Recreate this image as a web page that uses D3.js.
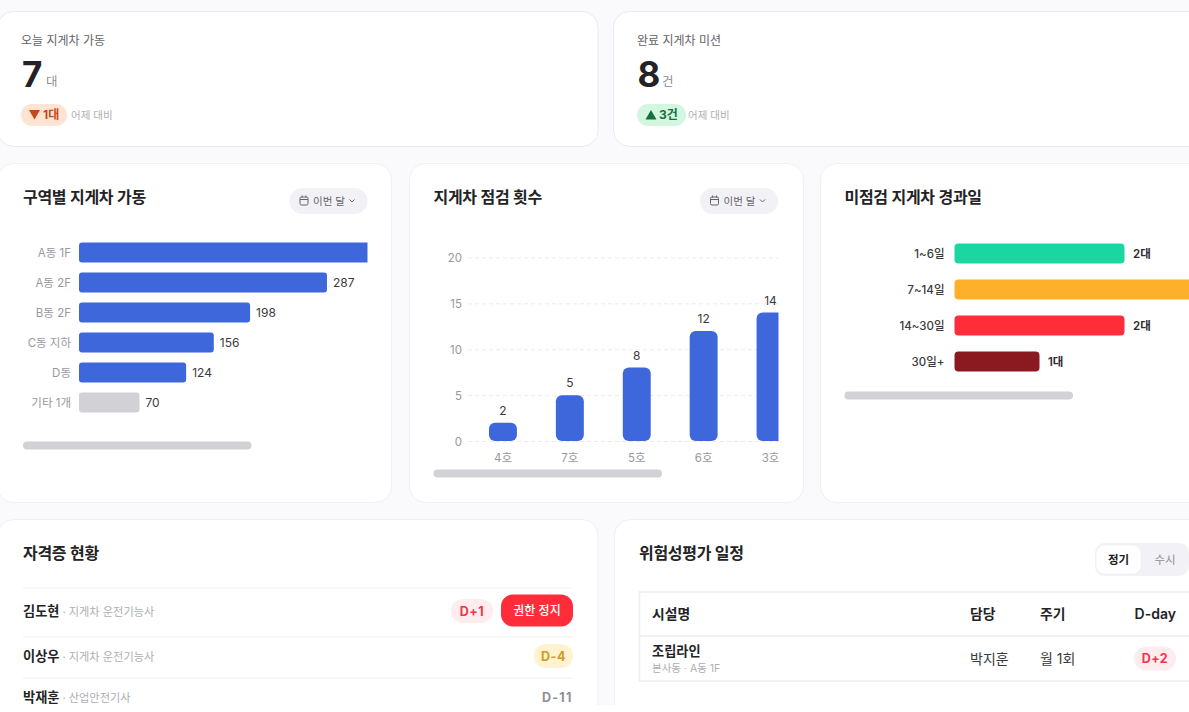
<!DOCTYPE html>
<html>
<head>
<meta charset="utf-8">
<script src="https://cdn.jsdelivr.net/npm/d3@7"></script>
<style>
    html, body { margin: 0; padding: 0; background: #fff; overflow: hidden; }
    svg { display: block; }
    text { font-family: Inter, "Noto Sans CJK KR", sans-serif; }
</style>
</head>
<body>
<div id="chart"></div>
<script>
// zone chart
const zoneNames = ["A동 1F", "A동 2F", "B동 2F", "C동 지하", "D동", "기타 1개"];
const zoneValues = [342, 287, 198, 156, 124, 70];
// inspection chart
const unitNames = ["4호", "7호", "5호", "6호", "3호"];
const unitValues = [2, 5, 8, 12, 14];
const unitTicks = [0, 5, 10, 15, 20];
// overdue chart
const overdueNames = ["1~6일", "7~14일", "14~30일", "30일+"];
const overdueValues = [2, 3, 2, 1];
const overdueColors = ["#1ad7a1", "#ffb02a", "#ff2d3a", "#8b1a20"];
// licence list
const licenceNames = ["김도현", "이상우", "박재훈"];
const licenceTypes = ["지게차 운전기능사", "지게차 운전기능사", "산업안전기사"];
const licenceDays = ["D+1", "D-4", "D-11"];

const width = 1189;
const height = 712;
const ink = "#1c1c1e";
const blue = "#3f67dc";

const svg = d3.select("#chart")
    .append("svg")
    .attr("width", width)
    .attr("height", height);

const defs = svg.append("defs");

// Page background stops short of the bottom edge
defs.append("clipPath")
    .attr("id", "page-clip")
    .append("rect")
    .attr("width", width)
    .attr("height", 705);

const page = svg.append("g").attr("clip-path", "url(#page-clip)");

page.append("rect")
    .attr("width", width)
    .attr("height", height)
    .attr("fill", "#fafafd");

// Helpers
const label = (x, y, str, size, fill, weight = 400, anchor = "start") =>
    page.append("text")
        .attr("x", x)
        .attr("y", y)
        .attr("font-size", size)
        .attr("font-weight", weight)
        .attr("fill", fill)
        .attr("text-anchor", anchor)
        .text(str);

const title = (x, y, str) =>
    label(x, y, str, 16, "#232326", 600).attr("letter-spacing", -0.3);

const card = (x, y, w, h, stroke = "#f0f0f4") =>
    page.append("rect")
        .attr("x", x + 0.5)
        .attr("y", y + 0.5)
        .attr("width", w)
        .attr("height", h)
        .attr("rx", 16)
        .attr("fill", "#fff")
        .attr("stroke", stroke);

const pill = (x, y, w, h, fill, r = h / 2) =>
    page.append("rect")
        .attr("x", x)
        .attr("y", y)
        .attr("width", w)
        .attr("height", h)
        .attr("rx", r)
        .attr("fill", fill);

const clipGroup = (id, x, y, w, h) => {
    defs.append("clipPath")
        .attr("id", id)
        .append("rect")
        .attr("x", x)
        .attr("y", y)
        .attr("width", w)
        .attr("height", h);
    return page.append("g").attr("clip-path", `url(#${id})`);
};

const monthButton = (x) => {
    pill(x, 188, 78, 26, "#f2f2f6");
    page.append("rect")
        .attr("x", x + 10.5)
        .attr("y", 197)
        .attr("width", 8)
        .attr("height", 8)
        .attr("rx", 1.5)
        .attr("fill", "none")
        .attr("stroke", "#636366");
    page.append("path")
        .attr("d", `M${x + 10.5} 199.5h8M${x + 12.5} 195.5v2M${x + 16.5} 195.5v2`)
        .attr("fill", "none")
        .attr("stroke", "#636366");
    label(x + 23.5, 204.5, "이번 달", 10.5, "#636366");
    page.append("path")
        .attr("d", `M${x + 60} 199.5l2.5 2.5l2.5 -2.5`)
        .attr("fill", "none")
        .attr("stroke", "#636366");
};

const scrollbar = (x, y) => pill(x, y, 228.5, 8, "#d1d1d6", 4);

// Top stat cards
card(-3, 11, 600.5, 135, "#e8e8f0");
label(21, 44.5, "오늘 지게차 가동", 12, "#636366");
label(22, 87, "7", 35, "#232326", 700);
label(46, 86, "대", 12.5, "#8e8e93");
pill(21, 104, 46, 22, "#ffe3d3");
page.append("path").attr("d", "M29 110h11l-5.5 9.5z").attr("fill", "#c2491a");
label(43, 119, "1대", 12, "#c2491a", 700);
label(71, 119, "어제 대비", 10.5, "#aeaeb2");

card(613, 11, 600, 135, "#e8e8f0");
label(637, 44.5, "완료 지게차 미션", 12, "#636366");
label(637.5, 87, "8", 35, "#232326", 700);
label(662, 86, "건", 12.5, "#8e8e93");
pill(637, 104, 49, 22, "#d3f6df");
page.append("path").attr("d", "M645.5 119.5h11l-5.5 -9.5z").attr("fill", "#14703f");
label(659, 119, "3건", 12, "#14703f", 700);
label(688, 119, "어제 대비", 10.5, "#aeaeb2");

// Zone chart
card(-3, 163, 394, 339);
title(23, 203, "구역별 지게차 가동");
monthButton(289.5);

const zoneY = d3.scaleBand()
    .domain(zoneNames)
    .range([237.5, 417.5])
    .paddingInner(1 / 3)
    .paddingOuter(1 / 6);
const zoneX = d3.scaleLinear()
    .domain([0, 342])
    .range([79, 374.5]);

const zoneG = clipGroup("zone-clip", 0, 230, 367.5, 190);
zoneG.selectAll("rect")
    .data(zoneNames)
    .enter()
    .append("rect")
    .attr("x", zoneX(0))
    .attr("y", (d) => zoneY(d))
    .attr("width", (d, i) => zoneX(zoneValues[i]) - zoneX(0))
    .attr("height", zoneY.bandwidth())
    .attr("rx", 3)
    .attr("fill", (d, i) => (i === zoneNames.length - 1 ? "#d1d1d6" : blue));

// The longest bar runs past the clip and its value is not shown
zoneG.selectAll(".value")
    .data(zoneNames.slice(1))
    .enter()
    .append("text")
    .attr("class", "value")
    .attr("x", (d, i) => zoneX(zoneValues[i + 1]) + 6)
    .attr("y", (d) => zoneY(d) + 14.5)
    .attr("font-size", 12)
    .attr("fill", "#3a3a3c")
    .text((d, i) => zoneValues[i + 1]);

const zoneAxis = page.append("g")
    .attr("transform", `translate(${zoneX(0)}, 0)`)
    .call(d3.axisLeft(zoneY).tickSize(0).tickPadding(8));
zoneAxis.select(".domain").remove();
zoneAxis.selectAll("text")
    .attr("dy", "0.42em")
    .attr("font-size", 11.5)
    .attr("fill", "#98989d");

scrollbar(23, 441.5);

// Inspection chart
card(409, 163, 394, 339);
title(433.5, 203, "지게차 점검 횟수");
monthButton(700);

const unitY = d3.scaleLinear()
    .domain([0, 20])
    .range([441, 257.5]);
const unitX = d3.scaleBand()
    .domain(unitNames)
    .range([469.5, 804])
    .paddingInner(39 / 67)
    .paddingOuter(39 / 134);

const gridAxis = page.append("g")
    .attr("transform", "translate(468, 0)")
    .call(d3.axisLeft(unitY).tickValues(unitTicks).tickSize(-310.5).tickPadding(6));
gridAxis.select(".domain").remove();
gridAxis.selectAll("line")
    .attr("stroke", "#ebebef")
    .attr("stroke-dasharray", "4 3");
gridAxis.selectAll("text")
    .attr("dy", "0.38em")
    .attr("font-size", 11.5)
    .attr("fill", "#98989d");

const unitG = clipGroup("unit-clip", 468, 230, 310.5, 240);
unitG.selectAll("rect")
    .data(unitNames)
    .enter()
    .append("rect")
    .attr("x", (d) => unitX(d))
    .attr("y", (d, i) => unitY(unitValues[i]))
    .attr("width", unitX.bandwidth())
    .attr("height", (d, i) => unitY(0) - unitY(unitValues[i]))
    .attr("rx", 6)
    .attr("fill", blue);

unitG.selectAll(".value")
    .data(unitNames)
    .enter()
    .append("text")
    .attr("class", "value")
    .attr("x", (d) => unitX(d) + unitX.bandwidth() / 2)
    .attr("y", (d, i) => unitY(unitValues[i]) - 8)
    .attr("text-anchor", "middle")
    .attr("font-size", 12)
    .attr("fill", "#3a3a3c")
    .text((d, i) => unitValues[i]);

const unitAxis = unitG.append("g")
    .attr("transform", "translate(0, 441)")
    .call(d3.axisBottom(unitX).tickSize(0).tickPadding(12.5));
unitAxis.select(".domain").remove();
unitAxis.selectAll("text")
    .attr("font-size", 11.5)
    .attr("fill", "#98989d");

scrollbar(433.5, 469.5);

// Overdue chart
card(820, 163, 400, 339);
title(844.5, 203, "미점검 지게차 경과일");

const overdueY = d3.scaleBand()
    .domain(overdueNames)
    .range([235.5, 379.5])
    .paddingInner(16 / 36)
    .paddingOuter(8 / 36);
const overdueX = d3.scaleLinear()
    .domain([0, 2])
    .range([954.5, 1124.5]);

page.append("g")
    .selectAll("rect")
    .data(overdueNames)
    .enter()
    .append("rect")
    .attr("x", overdueX(0))
    .attr("y", (d) => overdueY(d))
    .attr("width", (d, i) => overdueX(overdueValues[i]) - overdueX(0))
    .attr("height", overdueY.bandwidth())
    .attr("rx", 4)
    .attr("fill", (d, i) => overdueColors[i]);

// Value label of a bar that leaves the page is not drawn
page.append("g")
    .selectAll("text")
    .data(overdueNames.filter((d, i) => overdueX(overdueValues[i]) < width))
    .enter()
    .append("text")
    .attr("x", (d) => overdueX(overdueValues[overdueNames.indexOf(d)]) + 8.5)
    .attr("y", (d) => overdueY(d) + 14.5)
    .attr("font-size", 11.5)
    .attr("font-weight", 600)
    .attr("fill", "#2c2c2e")
    .text((d) => `${overdueValues[overdueNames.indexOf(d)]}대`);

const overdueAxis = page.append("g")
    .attr("transform", `translate(${overdueX(0)}, 0)`)
    .call(d3.axisLeft(overdueY).tickSize(0).tickPadding(10));
overdueAxis.select(".domain").remove();
overdueAxis.selectAll("text")
    .attr("dy", "0.42em")
    .attr("font-size", 11.5)
    .attr("font-weight", 500)
    .attr("fill", "#3a3a3c");

scrollbar(844.5, 391.5);

// Licence list
card(-3, 519, 600.5, 240);
title(23, 559, "자격증 현황");

const rowLine = (x1, x2, y) =>
    page.append("line")
        .attr("x1", x1)
        .attr("x2", x2)
        .attr("y1", y)
        .attr("y2", y)
        .attr("stroke", "#f4f4f7")
        .attr("stroke-width", 1.5);

[588, 637, 678].forEach((y) => rowLine(23, 573, y));

const rowY = [615.5, 660.5, 701.5];
licenceNames.forEach((name, i) => {
    const n = label(23, rowY[i], name, 13.2, "#232326", 600);
    label(23 + n.node().getComputedTextLength() + 3, rowY[i], `· ${licenceTypes[i]}`, 11.2, "#aeaeb2");
});

pill(451, 599, 42, 24, "#ffecee");
label(472, 615.5, licenceDays[0], 12.5, "#f0344a", 700, "middle").attr("letter-spacing", 0.6);
pill(501, 594.5, 72, 32, "#ff2d3a", 12);
label(537, 615, "권한 정지", 12, "#fff", 500, "middle");
pill(534, 644, 39, 24, "#fff2cf");
label(553.5, 660.5, licenceDays[1], 12.5, "#d39a22", 700, "middle").attr("letter-spacing", 0.6);
label(572.5, 702, licenceDays[2], 12.5, "#8e8e93", 700, "end").attr("letter-spacing", 1.2);

// Risk assessment schedule
card(614, 519, 600, 240);
title(639, 559, "위험성평가 일정");

pill(1095, 543, 94, 33, "#f2f2f6", 10);
page.append("rect")
    .attr("x", 1096.5)
    .attr("y", 545.5)
    .attr("width", 44)
    .attr("height", 28)
    .attr("rx", 8)
    .attr("fill", "#fff");
label(1118.5, 564, "정기", 11.5, ink, 600, "middle");
label(1165, 564, "수시", 11.5, "#8e8e93", 400, "middle");

page.append("rect")
    .attr("x", 639.5)
    .attr("y", 592)
    .attr("width", 560)
    .attr("height", 89)
    .attr("fill", "#fff")
    .attr("stroke", "#ececf1")
    .attr("stroke-width", 1.5);
rowLine(640, 1200, 636).attr("stroke", "#ececf1");

label(652, 619, "시설명", 13.8, "#232326", 600);
label(970, 619, "담당", 13.8, "#232326", 600);
label(1040, 619, "주기", 13.8, "#232326", 600);
label(1176, 619, "D-day", 14, "#232326", 600, "end");

label(652, 656, "조립라인", 13.2, "#232326", 600);
label(652, 672, "본사동 · A동 1F", 10.5, "#aeaeb2");
label(970, 664, "박지훈", 14, "#3a3a3c");
label(1040, 664, "월 1회", 14, "#3a3a3c");
pill(1134, 646.5, 42, 24, "#ffecee");
label(1155, 663, "D+2", 12.5, "#f0344a", 700, "middle").attr("letter-spacing", 0.4);
</script>
</body>
</html>
